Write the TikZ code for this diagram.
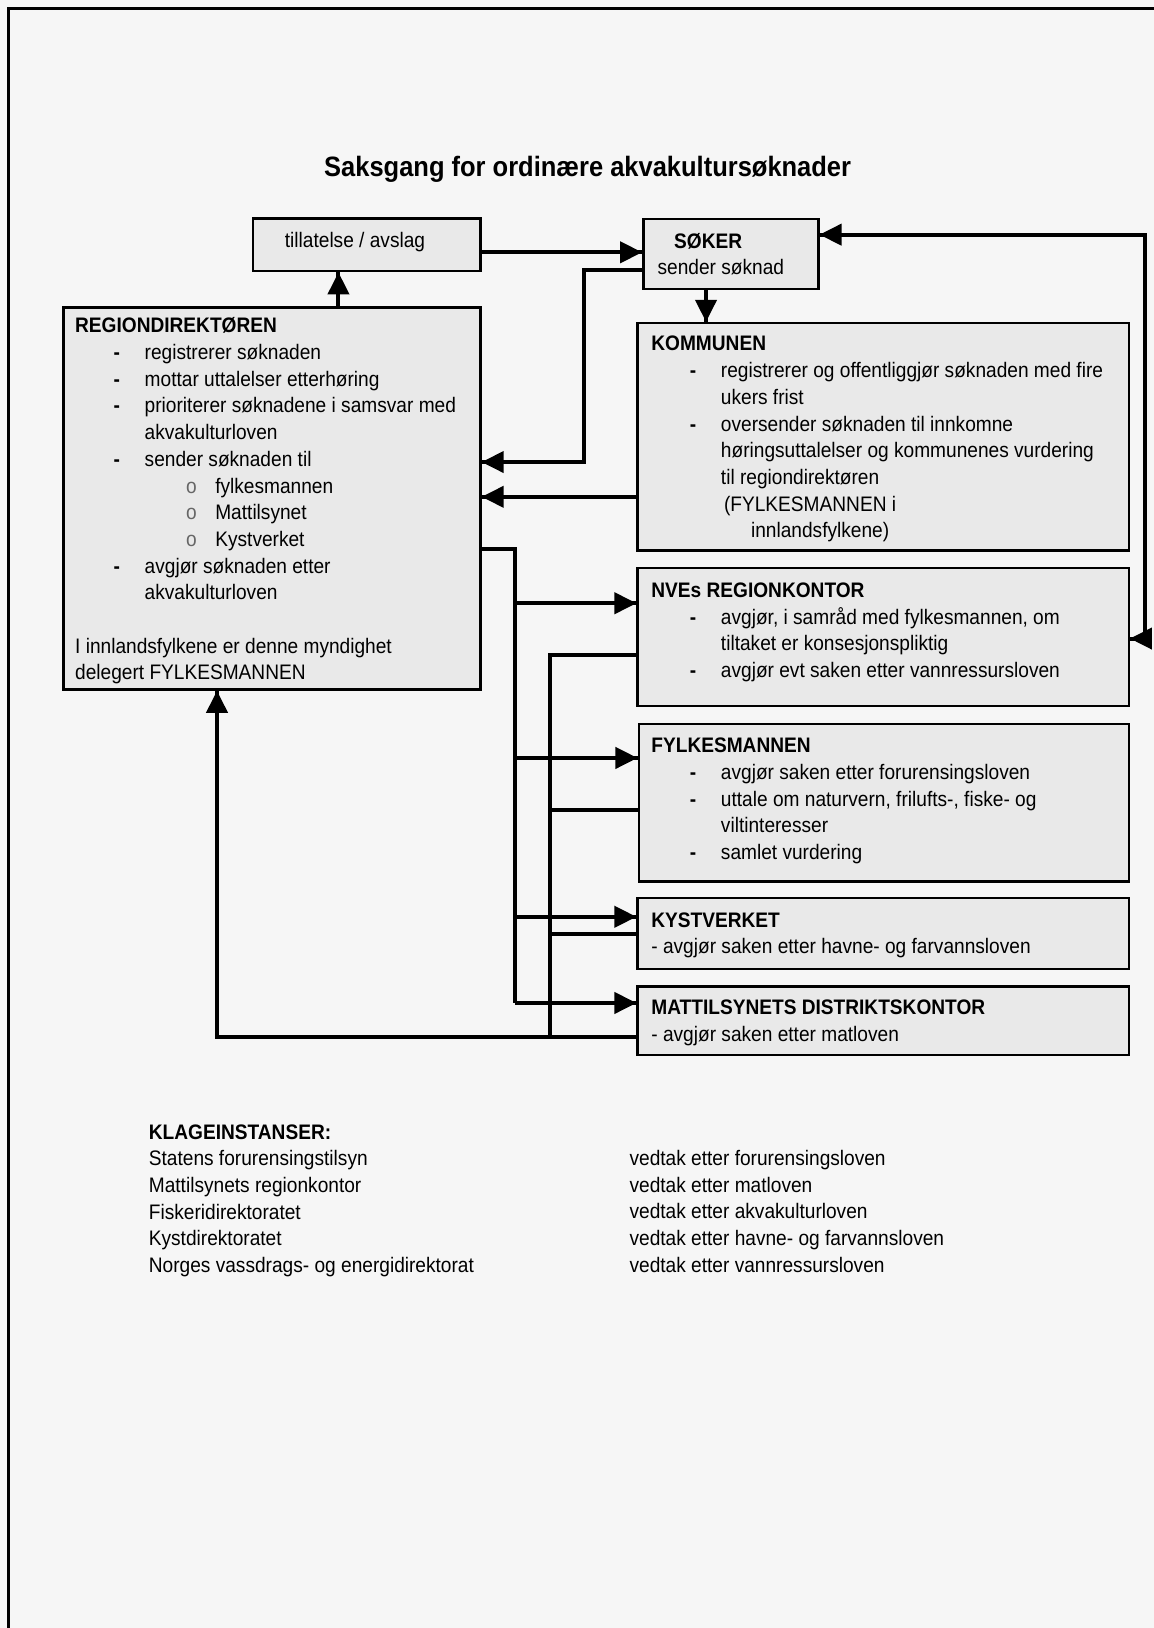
\documentclass[tikz,border=0pt]{standalone}
\usepackage{fontspec}
\setmainfont{Liberation Sans}[FakeStretch=0.91]
\usetikzlibrary{decorations.markings}
\usetikzlibrary{arrows.meta}
\newlength\enh
\setlength\enh{0.519pt}
\definecolor{papir}{gray}{0.965}
\definecolor{boksgraa}{gray}{0.915}
\tikzset{->/.style = {decoration={markings,
                                  mark=at position 1 with {\arrow{Triangle[length=11pt,width=10.5pt]}}},
                      postaction={decorate}}}
\tikzset{<->/.style = {decoration={markings,
                                   mark=at position 0 with {\arrowreversed{Triangle[length=11pt,width=10.5pt]}},
                                   mark=at position 1 with {\arrow{Triangle[length=11pt,width=10.5pt]}}},
                       postaction={decorate}}}
\tikzset{boks/.style = {draw, line width=1.2pt, fill=boksgraa, inner sep=0, anchor=north west}}
\tikzset{tekst/.style = {inner sep=0, anchor=north west, align=left, font=\fontsize{10.5}{13.34}\selectfont}}
\tikzset{linje/.style = {line width=2pt}}
\newcommand{\strek}[1]{\hspace*{37\enh}\makebox[30\enh][l]{\textbf{-}}#1}
\newcommand{\fort}[1]{\hspace*{67\enh}#1}
\newcommand{\ring}[1]{\hspace*{107\enh}\makebox[28\enh][l]{\textcolor{black!60}{o}}#1}

\begin{document}
\begin{tikzpicture}[x=\enh, y=-\enh]
      \fill [papir] (0,0) rectangle (1111,1568);
      \useasboundingbox (0,0) rectangle (1111,1568);
      \draw [line width=1.2pt] (8,1568) -- (8,8) -- (1111,8);

      \node [font=\fontsize{14}{16}\selectfont\bfseries] (tittel) at (566,163) {Saksgang for ordinære akvakultursøknader};

      % boxes
      \node [boks, minimum width=219\enh, minimum height=50.6\enh] (till) at (242.6,209.4) {};
      \node [boks, minimum width=168.5\enh, minimum height=67.3\enh] (soker) at (618.5,209.7) {};
      \node [boks, minimum width=401.6\enh, minimum height=368\enh] (region) at (60,295) {};
      \node [boks, minimum width=473\enh, minimum height=219\enh] (komm) at (613,310) {};
      \node [boks, minimum width=473\enh, minimum height=133\enh] (nve) at (613,546) {};
      \node [boks, minimum width=472\enh, minimum height=152\enh] (fylkes) at (614,696) {};
      \node [boks, minimum width=473\enh, minimum height=68\enh] (kyst) at (613,864) {};
      \node [boks, minimum width=473\enh, minimum height=66\enh] (matt) at (613,949) {};

      % texts
      \node [tekst, anchor=west] (tilltekst) at (274,233) {tillatelse / avslag};
      \node [tekst] (sokertekst) at (633,224) {\hspace*{16\enh}\textbf{SØKER}\\sender søknad};
      \node [tekst] (regiontekst) at (72,305.7) {\textbf{REGIONDIREKTØREN}\\
        \strek{registrerer søknaden}\\
        \strek{mottar uttalelser etterhøring}\\
        \strek{prioriterer søknadene i samsvar med}\\
        \fort{akvakulturloven}\\
        \strek{sender søknaden til}\\
        \ring{fylkesmannen}\\
        \ring{Mattilsynet}\\
        \ring{Kystverket}\\
        \strek{avgjør søknaden etter}\\
        \fort{akvakulturloven}\\[13.34pt]
        I innlandsfylkene er denne myndighet\\
        delegert FYLKESMANNEN};
      \node [tekst] (kommtekst) at (627,323.5) {\textbf{KOMMUNEN}\\
        \strek{registrerer og offentliggjør søknaden med fire}\\
        \fort{ukers frist}\\
        \strek{oversender søknaden til innkomne}\\
        \fort{høringsuttalelser og kommunenes vurdering}\\
        \fort{til regiondirektøren}\\
        \hspace*{70\enh}(FYLKESMANNEN i\\
        \hspace*{96\enh}innlandsfylkene)};
      \node [tekst] (nvetekst) at (627,561) {\textbf{NVEs REGIONKONTOR}\\
        \strek{avgjør, i samråd med fylkesmannen, om}\\
        \fort{tiltaket er konsesjonspliktig}\\
        \strek{avgjør evt saken etter vannressursloven}};
      \node [tekst] (fylkestekst) at (627,710.5) {\textbf{FYLKESMANNEN}\\
        \strek{avgjør saken etter forurensingsloven}\\
        \strek{uttale om naturvern, frilufts-, fiske- og}\\
        \fort{viltinteresser}\\
        \strek{samlet vurdering}};
      \node [tekst] (kysttekst) at (627,878.5) {\textbf{KYSTVERKET}\\- avgjør saken etter havne- og farvannsloven};
      \node [tekst] (matttekst) at (627,962.5) {\textbf{MATTILSYNETS DISTRIKTSKONTOR}\\- avgjør saken etter matloven};

      \node [tekst] (klage) at (143,1082.5) {\textbf{KLAGEINSTANSER:}\\
        Statens forurensingstilsyn\\
        Mattilsynets regionkontor\\
        Fiskeridirektoratet\\
        Kystdirektoratet\\
        Norges vassdrags- og energidirektorat};
      \node [tekst] (vedtak) at (606,1107.5) {vedtak etter forurensingsloven\\
        vedtak etter matloven\\
        vedtak etter akvakulturloven\\
        vedtak etter havne- og farvannsloven\\
        vedtak etter vannressursloven};

      % connectors
      \coordinate (s0) at (326,243);
      \draw [linje, ->] (till.east |- s0) -- (soker.west |- s0);
      \draw [linje, ->] (region.north -| s0) -- (till.south -| s0);

      \coordinate (s1) at (680,260);
      \coordinate (s2) at (562,445);
      \draw [linje, ->] (soker.south -| s1) -- (komm.north -| s1);
      \draw [linje, ->] (soker.west |- s1) -| (s2) -- (region.east |- s2);

      \coordinate (s3) at (0,478.5);
      \draw [linje, ->] (komm.west |- s3) -- (region.east |- s3);

      \coordinate (s4) at (1103,226);
      \coordinate (s5) at (0,615);
      \draw [linje, <->] (soker.east |- s4) -- (s4) |- (nve.east |- s5);

      \coordinate (b1) at (496,529);
      \coordinate (b2) at (496,966);
      \draw [linje] (region.east |- b1) -- (b1) -- (b2);
      \draw [linje, ->] (b2) -- (matt.west |- b2);
      \foreach \mal/\yy in {nve/581, fylkes/730, kyst/883} {
        \coordinate (t) at (496,\yy);
        \draw [linje, ->] (t) -- (\mal.west |- t);
      }

      \coordinate (r1) at (530,631);
      \coordinate (r2) at (530,998.7);
      \coordinate (r3) at (209,998.7);
      \draw [linje] (nve.west |- r1) -- (r1) -- (r2);
      \foreach \fra/\yy in {fylkes/780, kyst/900} {
        \coordinate (t) at (530,\yy);
        \draw [linje] (\fra.west |- t) -- (t);
      }
      \draw [linje, ->] (matt.west |- r2) -- (r3) -- (region.south -| r3);
    \end{tikzpicture}
\end{document}
